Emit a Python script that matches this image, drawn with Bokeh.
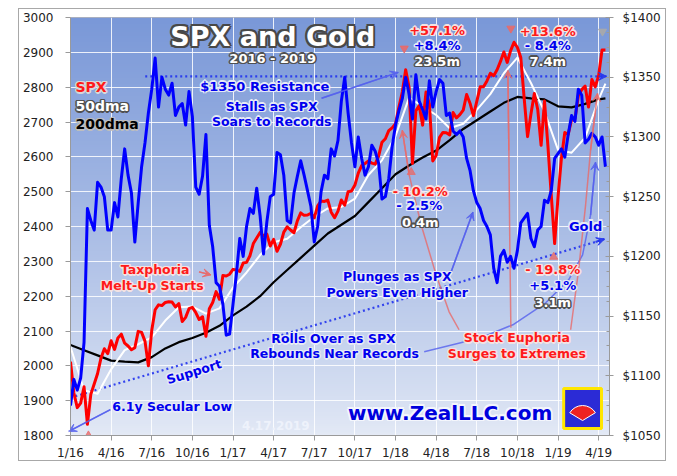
import numpy as np
from bokeh.plotting import figure
from bokeh.models import Range1d, LinearAxis, FixedTicker, Label, Arrow, VeeHead
from bokeh.embed import file_html
from bokeh.resources import INLINE

# ---------------- data ----------------
# sample positions, in months since 1/2016 (quarter-month steps)
months = [i * 0.25 for i in range(159)]

spx = [
    2012, 1922, 1880, 1893, 1940, 1832, 1918, 1948, 1978, 2022, 2049, 2035,
    2072, 2047, 2080, 2091, 2065, 2057, 2046, 2052, 2099, 2096, 2071, 2000,
    2102, 2161, 2175, 2173, 2182, 2184, 2183, 2169, 2179, 2127, 2139, 2164,
    2168, 2153, 2133, 2141, 2085, 2164, 2182, 2213, 2191, 2259, 2258, 2263,
    2277, 2275, 2271, 2295, 2297, 2316, 2351, 2367, 2383, 2373, 2378, 2344,
    2363, 2329, 2349, 2384, 2399, 2390, 2382, 2416, 2439, 2432, 2433, 2438,
    2425, 2459, 2473, 2472, 2476, 2441, 2425, 2444, 2476, 2461, 2500, 2502,
    2519, 2553, 2575, 2581, 2588, 2582, 2579, 2602, 2642, 2652, 2675, 2683,
    2695, 2743, 2786, 2850, 2800, 2581, 2732, 2747, 2691, 2786, 2752, 2588,
    2604, 2656, 2670, 2669, 2663, 2727, 2712, 2721, 2734, 2779, 2754, 2718,
    2759, 2801, 2801, 2818, 2840, 2833, 2850, 2874, 2901, 2871, 2905, 2929,
    2914, 2885, 2768, 2658, 2723, 2782, 2736, 2633, 2760, 2633, 2490, 2351,
    2485, 2596, 2670, 2664, 2707, 2709, 2775, 2793, 2803, 2743, 2822, 2801,
    2834, 2907, 2907,
]

gold = [
    1075, 1097, 1088, 1098, 1128, 1240, 1230, 1222, 1262, 1258, 1250, 1222,
    1222, 1245, 1233, 1265, 1290, 1268, 1253, 1212, 1245, 1275, 1295, 1320,
    1340, 1366, 1325, 1350, 1340, 1335, 1345, 1318, 1325, 1328, 1310, 1338,
    1317, 1258, 1252, 1267, 1302, 1226, 1208, 1178, 1175, 1160, 1134, 1135,
    1160, 1185, 1215, 1200, 1225, 1240, 1236, 1257, 1234, 1202, 1229, 1250,
    1252, 1287, 1285, 1268, 1230, 1228, 1253, 1267, 1280, 1268, 1255, 1242,
    1212, 1225, 1254, 1268, 1265, 1290, 1284, 1297, 1330, 1350, 1320, 1295,
    1275, 1300, 1282, 1268, 1275, 1293, 1288, 1278, 1248, 1250, 1265, 1292,
    1310, 1322, 1332, 1350, 1336, 1315, 1352, 1330, 1323, 1315, 1347, 1325,
    1338, 1348, 1345, 1318, 1320, 1305, 1302, 1305, 1300, 1282, 1272, 1255,
    1245, 1240, 1230, 1225, 1218, 1190, 1178, 1200, 1205, 1195, 1200, 1190,
    1205, 1228, 1232, 1236, 1215, 1208, 1222, 1225, 1247, 1245, 1255, 1282,
    1286, 1290, 1283, 1302, 1318, 1313, 1340, 1335, 1295, 1298, 1303, 1300,
    1293, 1300, 1275,
]

ma_months = list(range(40)) + [39.5]

spx_50dma = [
    2055, 1930, 1920, 1990, 2045, 2062, 2082, 2130, 2168, 2170, 2150, 2165,
    2225, 2268, 2318, 2355, 2365, 2398, 2428, 2452, 2456, 2480, 2548, 2590,
    2660, 2770, 2745, 2720, 2682, 2695, 2735, 2780, 2840, 2885, 2812, 2730,
    2620, 2612, 2655, 2765, 2810,
]

spx_200dma = [
    2060, 2045, 2030, 2015, 2012, 2010, 2025, 2050, 2068, 2080, 2095, 2115,
    2145, 2170, 2200, 2240, 2275, 2310, 2345, 2380, 2405, 2430, 2470, 2510,
    2550, 2575, 2598, 2618, 2648, 2680, 2705, 2730, 2755, 2772, 2768, 2765,
    2745, 2742, 2752, 2765, 2768,
]

x_ticks = [0, 3, 6, 9, 12, 15, 18, 21, 24, 27, 30, 33, 36, 39]
x_tick_labels = ["1/16", "4/16", "7/16", "10/16", "1/17", "4/17", "7/17",
                 "10/17", "1/18", "4/18", "7/18", "10/18", "1/19", "4/19"]
spx_ticks = [1800, 1900, 2000, 2100, 2200, 2300, 2400, 2500, 2600, 2700,
             2800, 2900, 3000]
gold_ticks = [1050, 1100, 1150, 1200, 1250, 1300, 1350, 1400]

# ---------------- figure ----------------
p = figure(width=648, height=453, x_range=Range1d(0, 39.8),
           y_range=Range1d(1800, 3000), output_backend="svg",
           toolbar_location=None, min_border_left=49, min_border_right=58,
           min_border_top=8, min_border_bottom=26)
p.extra_y_ranges = {"gold": Range1d(1050, 1400)}
p.margin = (8, 0, 0, 18)
p.styles = {"border": "1px solid #a8a8a8"}
p.background_fill_color = "white"
p.border_fill_color = "white"
p.outline_line_color = "#b8b8b8"

# pixel -> data helpers for annotations
def X(px):
    return (px - 68) / 13.593

def Y(py):
    return 3000 - (py - 17) * 1200 / 419

def G(py):
    return 1400 - (py - 17) * 350 / 419

# gradient background
H = 210
img = np.empty((H, 1), dtype=np.uint32)
view = img.view(dtype=np.uint8).reshape((H, 1, 4))
top = np.array([122, 152, 216])
bot = np.array([228, 234, 246])
for i in range(H):
    t = i / (H - 1)
    t2 = t ** 0.85
    c = bot + (top - bot) * t2
    view[i, 0, 0:3] = c.astype(np.uint8)
    view[i, 0, 3] = 255
p.image_rgba(image=[img], x=0, y=1800, dw=39.8, dh=1200, level="image")

# axes
xa = p.xaxis[0]
xa.ticker = FixedTicker(ticks=x_ticks)
xa.major_label_overrides = {t: l for t, l in zip(x_ticks, x_tick_labels)}
ya = p.yaxis[0]
ya.ticker = FixedTicker(ticks=spx_ticks)
for ax in (xa, ya):
    ax.axis_line_color = "#9a9a9a"
    ax.major_tick_line_color = "#9a9a9a"
    ax.minor_tick_line_color = None
    ax.major_tick_in = 0
    ax.major_tick_out = 5
    ax.major_label_text_font = "DejaVu Sans"
    ax.major_label_text_font_size = "12px"
    ax.major_label_text_color = "#222222"
xa.major_label_standoff = 5
ya.major_label_standoff = 12

ra = LinearAxis(y_range_name="gold",
                ticker=FixedTicker(ticks=gold_ticks,
                                   minor_ticks=[1050 + 12.5 * k for k in range(29)]),
                major_label_overrides={v: "$%d" % v for v in gold_ticks})
ra.axis_line_color = "#9a9a9a"
ra.major_tick_line_color = "#9a9a9a"
ra.minor_tick_line_color = "#9a9a9a"
ra.major_tick_in = 4
ra.major_tick_out = 4
ra.minor_tick_in = 3
ra.minor_tick_out = 0
ra.major_label_standoff = 9
ra.major_label_text_font = "DejaVu Sans"
ra.major_label_text_font_size = "12px"
ra.major_label_text_color = "#222222"
p.add_layout(ra, "right")

for g in (p.xgrid[0], p.ygrid[0]):
    g.grid_line_color = "white"
    g.grid_line_alpha = 0.85
    g.grid_line_width = 1
p.xgrid[0].ticker = FixedTicker(ticks=x_ticks)
p.ygrid[0].ticker = FixedTicker(ticks=spx_ticks)

# ---------------- guide lines / arrows ----------------
BLUE = "#0000ee"
REDL = "#e86a6a"
BLUEL = "#5560ee"

def curve(pts, color, alpha, width=1.5, head=True, gold_scale=False, dash="solid"):
    xs = [X(a) for a, b in pts]
    ys = [(G(b) if gold_scale else Y(b)) for a, b in pts]
    kw = {"y_range_name": "gold"} if gold_scale else {}
    p.line(xs, ys, line_color=color, line_alpha=alpha, line_width=width,
           line_dash=dash, **kw)
    if head:
        p.add_layout(Arrow(end=VeeHead(size=8, line_color=color, fill_color=color,
                                       line_alpha=alpha, fill_alpha=alpha),
                           x_start=xs[-2], y_start=ys[-2], x_end=xs[-1], y_end=ys[-1],
                           line_color=color, line_alpha=alpha, line_width=width, **kw))

# $1350 resistance and support (gold scale)
curve([(143, 76), (598, 76), (606, 76)], "#2233ee", 0.9, 2.2, True, True, "2 3")
curve([(68, 398), (595, 242), (604, 239)], "#2233ee", 0.9, 2.2, True, True, "2 3")

# blue callout arrows
curve([(108, 410), (66, 432)], BLUEL, 0.8, 1.5)
curve([(320, 98), (397, 72)], BLUEL, 0.8, 1.5)
curve([(450, 272), (472, 212)], BLUEL, 0.8, 1.5)
curve([(423, 352), (480, 338), (512, 325), (545, 303), (568, 280), (582, 255),
       (590, 215), (595, 162)], BLUEL, 0.8, 1.5)

# red callout arrows
curve([(458, 330), (448, 312), (435, 275), (420, 225), (408, 175), (401, 130)],
      REDL, 0.8, 1.5)
curve([(510, 328), (509, 250), (508, 150), (507, 70)], REDL, 0.8, 1.5)
curve([(570, 330), (578, 270), (585, 205), (590, 150), (597, 93)], REDL, 0.8, 1.5)
curve([(197, 272), (209, 275)], REDL, 0.9, 1.5)

# ---------------- series ----------------
p.line(ma_months, spx_200dma, line_color="black", line_width=2.2, line_join="round")
p.line(ma_months, spx_50dma, line_color="white", line_width=2, line_join="round")
p.line(months, spx, line_color="#ff0000", line_width=3, line_join="round")
p.line(months, gold, line_color="#0000ff", line_width=3, line_join="round",
       y_range_name="gold")

# small peak / trough markers
p.scatter([X(403), X(510)], [Y(48), Y(28)], marker="inverted_triangle", size=8,
          fill_color=REDL, line_color=REDL, alpha=0.9)
p.scatter([X(602)], [Y(31)], marker="inverted_triangle", size=8,
          fill_color="#aaaaaa", line_color="#aaaaaa", alpha=0.9)
p.scatter([X(86), X(410), X(553)], [Y(436), Y(172), Y(257)], marker="triangle",
          size=8, fill_color=REDL, line_color=REDL, alpha=0.8)

# logo
p.quad(left=[X(563)], right=[X(601)], top=[Y(389)], bottom=[Y(429)],
       fill_color="#2b2bd6", line_color="#ffe600", line_width=3)
p.wedge(x=[X(582)], y=[Y(421)], radius=15, radius_units="screen",
        start_angle=0.55, end_angle=2.6, fill_color="#ee2222", line_color="white",
        line_width=1)

# ---------------- texts ----------------
def txt(px, py, text, color, halo=None, size=12.5, align="center", angle=0.0,
        r=1.5, bold=True):
    kw = dict(x=X(px), y=Y(py), text=text, text_font="DejaVu Sans",
              text_font_style="bold" if bold else "normal",
              text_font_size="%spx" % size, text_align=align,
              text_baseline="middle", angle=angle)
    if halo:
        d = r * 0.72
        for ox, oy in [(r, 0), (-r, 0), (0, r), (0, -r), (d, d), (-d, d), (d, -d), (-d, -d)]:
            p.add_layout(Label(x_offset=ox, y_offset=oy, text_color=halo, **kw))
    p.add_layout(Label(text_color=color, **kw))

RED = "#ff1a1a"
RH = "#f3e2e2"
BH = "#e6eaf6"
WH = "#505050"

txt(271, 36, "SPX and Gold", "white", "#484848", 27, r=2.2)
txt(271, 58, "2016 - 2019", "white", WH, 13)

txt(73, 87, "SPX", RED, "#d8d8d8", 14, "left")
txt(73, 106, "50dma", "white", WH, 14, "left")
txt(73, 124, "200dma", "black", "#bdbdbd", 14, "left")

txt(263, 86, "$1350 Resistance", BLUE, BH, 13)
txt(270, 106, "Stalls as SPX", BLUE, BH, 12.5)
txt(270, 121, "Soars to Records", BLUE, BH, 12.5)

txt(436, 30, "+57.1%", RED, RH, 13)
txt(436, 45, "+8.4%", BLUE, BH, 13)
txt(436, 61, "23.5m", "white", WH, 13)

txt(547, 31, "+13.6%", RED, RH, 13)
txt(547, 45, "- 8.4%", BLUE, BH, 13)
txt(547, 61, "7.4m", "white", WH, 13)

txt(635, 31, "+23.7%", "#cdcdcd", "#9a9a9a", 12)
txt(635, 45, "+1.7%", "#cdcdcd", "#9a9a9a", 12)
txt(635, 62, "3.6m", "#cdcdcd", "#9a9a9a", 12)

txt(419, 191, "- 10.2%", RED, RH, 13)
txt(418, 205, "- 2.5%", BLUE, BH, 13)
txt(419, 222, "0.4m", "white", WH, 13)

txt(585, 226, "Gold", BLUE, BH, 13)

txt(552, 270, "- 19.8%", RED, RH, 13)
txt(552, 286, "+5.1%", BLUE, BH, 13)
txt(552, 303, "3.1m", "white", WH, 13)

txt(153, 270, "Taxphoria", RED, RH, 12.5)
txt(150, 286, "Melt-Up Starts", RED, RH, 12.5)

txt(396, 277, "Plunges as SPX", BLUE, BH, 12.5)
txt(396, 293, "Powers Even Higher", BLUE, BH, 12.5)

txt(332, 339, "Rolls Over as SPX", BLUE, BH, 12.5)
txt(333, 354, "Rebounds Near Records", BLUE, BH, 12.5)

txt(516, 338, "Stock Euphoria", RED, RH, 12.5)
txt(516, 354, "Surges to Extremes", RED, RH, 12.5)

txt(192, 372, "Support", BLUE, BH, 12.5, angle=0.30)
txt(170, 407, "6.1y Secular Low", BLUE, BH, 12.5)
txt(274, 426, "4.17.2019", "#eef2fb", None, 12)
txt(449, 413, "www.ZealLLC.com", "#0000dd", "#f4f6fc", 20, r=1.8)

open("out.html", "w").write(file_html(p, INLINE))
